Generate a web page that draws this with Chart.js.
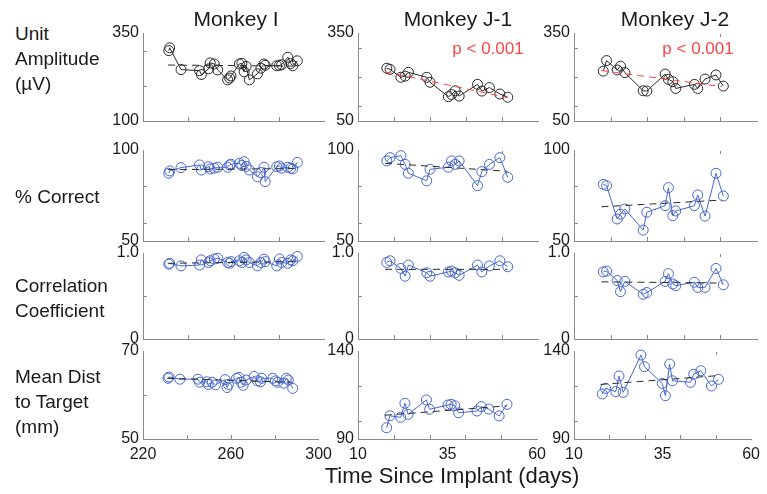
<!DOCTYPE html>
<html>
<head>
<meta charset="utf-8">
<script src="https://cdn.jsdelivr.net/npm/chart.js@4/dist/chart.umd.min.js"></script>
<style>
  html, body { margin: 0; padding: 0; background: #fff; overflow: hidden; width: 767px; height: 494px; }
  #wrap { position: relative; width: 767px; height: 494px; }
  #wrap canvas { position: absolute; }
  .t { position: absolute; font-family: "Liberation Sans", Arial, Helvetica, sans-serif; color: #1a1a1a; white-space: nowrap; line-height: 1; }
</style>
</head>
<body>
<div id="wrap"></div>
<script>
// ---- Session days ----
const daysI  = [231.4, 231.8, 236.8, 245.0, 245.8, 249.0, 249.7, 251.5, 253.0, 257.4, 258.3, 258.9, 262.6, 263.7,
                264.7, 265.6, 267.0, 270.6, 272.1, 273.5, 274.0, 279.1, 280.3, 281.3, 284.0, 285.3, 286.2, 288.2];
const daysJ1 = [18.0, 18.9, 21.9, 23.1, 24.0, 29.1, 30.0, 35.1, 36.0, 37.0, 38.1, 43.2, 44.4, 46.5, 49.4, 51.6];
const daysJ2 = [18.0, 18.9, 21.8, 22.7, 23.9, 28.9, 29.9, 34.9, 35.8, 37.0, 37.8, 42.9, 43.8, 45.8, 48.8, 50.8];

// ---- Unit amplitude (µV) ----
const ampI  = [300, 308, 246, 243, 232, 248, 265, 262, 245, 217, 222, 228, 262, 264,
               240, 255, 217, 234, 250, 262, 258, 257, 258, 260, 281, 263, 257, 271];
const ampJ1 = [230, 226, 199, 203, 216, 199, 182, 133, 140, 153, 135, 175, 152, 164, 142, 131];
const ampJ2 = [220, 256, 224, 237, 215, 153, 152, 210, 192, 184, 161, 175, 161, 193, 207, 169];

// ---- % correct ----
const correctI  = [87.2, 88.5, 90.3, 91.8, 89.0, 90.8, 89.6, 90.0, 90.5, 90.5, 91.8, 92.2, 92.7, 91.5,
                   93.6, 91.0, 89.0, 85.3, 87.6, 90.5, 82.6, 90.8, 91.2, 90.0, 90.5, 90.0, 89.6, 93.2];
const correctJ1 = [94.0, 95.8, 96.9, 92.1, 87.2, 83.1, 89.4, 90.5, 94.0, 92.1, 94.0, 80.4, 88.1, 92.1, 95.8, 85.0];
const correctJ2 = [81.1, 80.4, 62.1, 64.7, 67.6, 56.0, 65.8, 69.4, 79.3, 63.9, 66.5, 69.4, 75.3, 63.7, 87.2, 74.7];

// ---- Correlation coefficient ----
const corrI  = [0.87, 0.88, 0.85, 0.86, 0.92, 0.89, 0.91, 0.93, 0.94, 0.89, 0.88, 0.90, 0.91, 0.89,
                0.95, 0.92, 0.89, 0.85, 0.89, 0.93, 0.90, 0.85, 0.93, 0.89, 0.88, 0.92, 0.91, 0.96];
const corrJ1 = [0.89, 0.91, 0.82, 0.73, 0.86, 0.77, 0.73, 0.78, 0.79, 0.77, 0.74, 0.86, 0.78, 0.85, 0.91, 0.84];
const corrJ2 = [0.78, 0.79, 0.68, 0.55, 0.67, 0.52, 0.54, 0.67, 0.76, 0.64, 0.62, 0.66, 0.60, 0.60, 0.82, 0.63];

// ---- Mean distance to target (mm) ----
const distI  = [63.8, 64.1, 63.6, 63.6, 62.9, 63.0, 62.4, 62.9, 62.3, 63.5, 61.7, 62.4, 63.8, 64.0,
                62.9, 62.2, 63.4, 64.2, 63.2, 63.0, 63.8, 63.8, 63.2, 62.9, 62.7, 63.8, 63.4, 61.5];
const distJ1 = [96.4, 103.2, 102.3, 110.3, 104.0, 112.2, 106.9, 109.3, 109.7, 108.9, 104.9, 105.9, 108.4, 107.0, 103.1, 109.7];
const distJ2 = [115.6, 118.8, 116.9, 125.8, 116.5, 137.7, 131.1, 121.6, 114.6, 132.6, 123.1, 122.2, 126.8, 128.8, 120.1, 123.9];

// ---- Regression lines (end points) ----
const trendDaysI  = [231, 288];
const trendDaysJ1 = [17.5, 51.5];
const trendDaysJ2 = [17.5, 50.5];
const ampTrendI      = [259, 256];
const ampTrendJ1     = [218, 130];
const ampTrendJ2     = [222, 167];
const correctTrendI  = [89.2, 89.8];
const correctTrendJ1 = [92.7, 88.3];
const correctTrendJ2 = [68.8, 72.5];
const corrTrendI     = [0.88, 0.90];
const corrTrendJ1    = [0.81, 0.81];
const corrTrendJ2    = [0.665, 0.65];
const distTrendI     = [63.8, 62.9];
const distTrendJ1    = [103.5, 108.8];
const distTrendJ2    = [121.0, 126.0];

// ---- Axis ranges and tick labels ----
const xTicksI = [220, 260, 300];
const xTicksJ = [10, 35, 60];
const xMinorI = [240, 260, 280];
const xMinorJ = [20, 30, 40, 50];
const ampTicksI = [100, 350];
const ampTicksJ = [50, 350];
const ampMinorI = [200, 300];
const ampMinorJ = [100, 200, 300];
const correctTicks = [50, 100];
const correctMinor = [60, 80];
const corrTicks = [0, 1];
const corrTickLabels = ['0', '1.0'];
const corrMinor = [0.5];
const distTicksI = [50, 70];
const distMinorI = [60];
const distTicksJ = [90, 140];
const distMinorJ = [100, 120];
// small stray tick near the top edge at day 50
const topMarkDay = 50;

const titles = ['Monkey I', 'Monkey J-1', 'Monkey J-2'];
const rowLabels = [['Unit', 'Amplitude', '(µV)'], ['% Correct'], ['Correlation', 'Coefficient'], ['Mean Dist', 'to Target', '(mm)']];
const pText = 'p < 0.001';
const xTitle = 'Time Since Implant (days)';

// ---- Layout of the plot boxes ----
const FONT = '"Liberation Sans", Arial, Helvetica, sans-serif';
const cols = [{ l: 143, r: 324 }, { l: 358, r: 538 }, { l: 574, r: 757 }];
const rows = [{ t: 33, b: 121 }, { t: 150, b: 241 }, { t: 253, b: 339 }, { t: 351, b: 439 }];
const BLACK = '#2a2a2a';
const BLUE = '#4767cf';
const RED = '#ff4545';
const AXIS = '#8a8a8a';

const wrap = document.getElementById('wrap');

// Short tick marks pointing into the plot, placed through the chart's own scales
const inwardTicks = {
  id: 'inwardTicks',
  afterDraw(chart, args, opts) {
    const { ctx, chartArea: a, scales } = chart;
    ctx.save();
    ctx.strokeStyle = opts.color;
    ctx.lineWidth = 1;
    ctx.beginPath();
    (opts.x || []).forEach(v => {
      const px = Math.round(scales.x.getPixelForValue(v)) + 0.5;
      ctx.moveTo(px, a.bottom);
      ctx.lineTo(px, a.bottom - opts.len);
    });
    (opts.y || []).forEach(v => {
      const py = Math.round(scales.y.getPixelForValue(v)) + 0.5;
      ctx.moveTo(a.left, py);
      ctx.lineTo(a.left + opts.len, py);
    });
    (opts.top || []).forEach(v => {
      const px = Math.round(scales.x.getPixelForValue(v)) + 0.5;
      ctx.moveTo(px, a.top + 1);
      ctx.lineTo(px, a.top + 4);
    });
    ctx.stroke();
    ctx.restore();
  }
};

function series(days, vals) {
  return days.map((d, i) => ({ x: d, y: vals[i] }));
}

function panel(ci, ri, s) {
  const c = cols[ci], r = rows[ri];
  const bottom = ri === 3;
  const PADL = 46, PADR = ci === 2 ? 9 : 14, PADT = 14, PADB = bottom ? 30 : 14;
  const w = c.r - c.l + PADL + PADR, h = r.b - r.t + PADT + PADB;
  const cv = document.createElement('canvas');
  cv.width = w; cv.height = h;
  cv.style.width = w + 'px'; cv.style.height = h + 'px';
  cv.style.left = (c.l - PADL) + 'px'; cv.style.top = (r.t - PADT) + 'px';
  wrap.appendChild(cv);

  const color = s.color;
  new Chart(cv, {
    type: 'scatter',
    data: {
      datasets: [
        {
          data: series(s.trendDays, s.trend),
          showLine: true,
          borderColor: s.trendColor,
          borderWidth: 1,
          borderDash: [7, 5],
          pointRadius: 0,
          fill: false
        },
        {
          data: series(s.days, s.vals),
          showLine: true,
          borderColor: color,
          borderWidth: 1,
          pointStyle: 'circle',
          pointRadius: 5,
          pointBorderWidth: 1,
          pointBorderColor: color,
          pointBackgroundColor: 'rgba(0,0,0,0)',
          fill: false,
          clip: false
        }
      ]
    },
    options: {
      responsive: false,
      animation: false,
      devicePixelRatio: 1,
      layout: { padding: { left: 0, right: PADR, top: PADT, bottom: bottom ? 0 : PADB } },
      plugins: {
        legend: { display: false },
        tooltip: { enabled: false },
        inwardTicks: { x: s.xMinor, y: s.yMinor, top: s.top, len: 4, color: AXIS }
      },
      scales: {
        x: {
          type: 'linear',
          min: s.xTicks[0],
          max: s.xTicks[s.xTicks.length - 1],
          grid: { display: false, drawTicks: false },
          border: { display: true, color: AXIS, width: 1 },
          afterBuildTicks(scale) { scale.ticks = s.xTicks.map(v => ({ value: v })); },
          afterFit(scale) { scale.height = bottom ? PADB : 0; },
          ticks: {
            display: bottom, padding: 6, color: '#1a1a1a', maxRotation: 0, autoSkip: false,
            font: { family: FONT, size: 16 },
            callback: (v) => String(v)
          }
        },
        y: {
          type: 'linear',
          min: s.yTicks[0],
          max: s.yTicks[1],
          grid: { display: false, drawTicks: false },
          border: { display: true, color: AXIS, width: 1 },
          afterBuildTicks(scale) { scale.ticks = s.yTicks.map(v => ({ value: v })); },
          afterFit(scale) { scale.width = PADL; },
          ticks: {
            padding: 4, color: '#1a1a1a',
            font: { family: FONT, size: 16 },
            callback: (v, i) => s.yLabels[i]
          }
        }
      }
    },
    plugins: [inwardTicks]
  });
}

const colDays = [daysI, daysJ1, daysJ2];
const colTrendDays = [trendDaysI, trendDaysJ1, trendDaysJ2];
const colXTicks = [xTicksI, xTicksJ, xTicksJ];
const colXMinor = [xMinorI, xMinorJ, xMinorJ];

const rowSpecs = [
  { vals: [ampI, ampJ1, ampJ2], trend: [ampTrendI, ampTrendJ1, ampTrendJ2],
    yTicks: [ampTicksI, ampTicksJ, ampTicksJ], yMinor: [ampMinorI, ampMinorJ, ampMinorJ],
    color: BLACK, trendColor: [BLACK, RED, RED], top: [false, false, true] },
  { vals: [correctI, correctJ1, correctJ2], trend: [correctTrendI, correctTrendJ1, correctTrendJ2],
    yTicks: [correctTicks, correctTicks, correctTicks], yMinor: [correctMinor, correctMinor, correctMinor],
    color: BLUE, trendColor: [BLACK, BLACK, BLACK], top: [false, true, true] },
  { vals: [corrI, corrJ1, corrJ2], trend: [corrTrendI, corrTrendJ1, corrTrendJ2],
    yTicks: [corrTicks, corrTicks, corrTicks], yMinor: [corrMinor, corrMinor, corrMinor],
    color: BLUE, trendColor: [BLACK, BLACK, BLACK], labels: corrTickLabels, top: [false, false, true] },
  { vals: [distI, distJ1, distJ2], trend: [distTrendI, distTrendJ1, distTrendJ2],
    yTicks: [distTicksI, distTicksJ, distTicksJ], yMinor: [distMinorI, distMinorJ, distMinorJ],
    color: BLUE, trendColor: [BLACK, BLACK, BLACK], top: [false, false, true] }
];

rowSpecs.forEach((rs, ri) => {
  for (let ci = 0; ci < 3; ci++) {
    const yt = rs.yTicks[ci];
    panel(ci, ri, {
      days: colDays[ci], vals: rs.vals[ci],
      trendDays: colTrendDays[ci], trend: rs.trend[ci],
      xTicks: colXTicks[ci], xMinor: colXMinor[ci],
      yTicks: yt, yMinor: rs.yMinor[ci],
      yLabels: rs.labels || yt.map(String),
      top: rs.top[ci] ? [topMarkDay] : [],
      color: rs.color, trendColor: rs.trendColor[ci]
    });
  }
});

// ---- Text ----
function text(str, x, y, size, opts = {}) {
  const d = document.createElement('div');
  d.className = 't';
  d.textContent = str;
  d.style.fontSize = size + 'px';
  d.style.left = x + 'px';
  d.style.top = y + 'px';
  if (opts.color) d.style.color = opts.color;
  d.style.transform = opts.center ? 'translate(-50%,-50%)' : 'translate(0,-50%)';
  wrap.appendChild(d);
}

const titleX = [236, 458, 675];
titles.forEach((t, i) => text(t, titleX[i], 18, 21, { center: true }));

const rowLabelY = [[33, 58, 83], [196], [285, 310], [376, 401, 426]];
rowLabels.forEach((lines, ri) => lines.forEach((ln, k) => text(ln, 15, rowLabelY[ri][k], 19)));

text(pText, 488, 48, 17, { center: true, color: RED });
text(pText, 698, 48, 17, { center: true, color: RED });

text(xTitle, 452, 476, 22, { center: true });
</script>
</body>
</html>
